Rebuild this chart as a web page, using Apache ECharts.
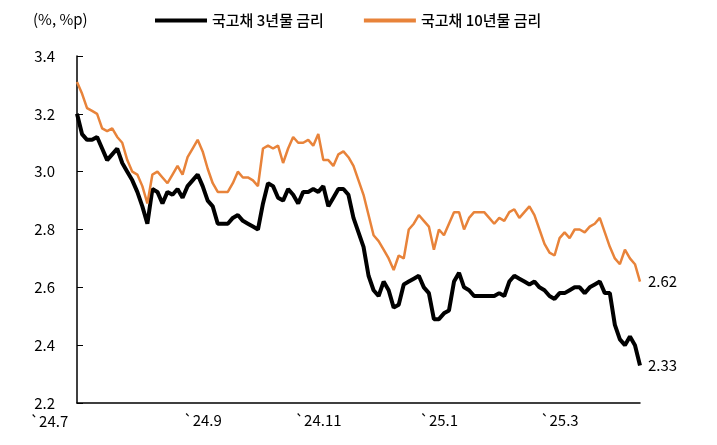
<!DOCTYPE html><html><head><meta charset="utf-8"><script src="https://cdn.jsdelivr.net/npm/echarts@6/dist/echarts.min.js"></script></head><body style="margin:0"><div id="c" style="width:717px;height:445px"></div><script>
const y3 = [3.20,3.13,3.11,3.11,3.12,3.08,3.04,3.06,3.08,3.03,3.00,2.97,2.93,2.88,2.82,2.94,2.93,2.89,2.93,2.92,2.94,2.91,2.95,2.97,2.99,2.95,2.90,2.88,2.82,2.82,2.82,2.84,2.85,2.83,2.82,2.81,2.80,2.89,2.96,2.95,2.91,2.90,2.94,2.92,2.89,2.93,2.93,2.94,2.93,2.95,2.88,2.91,2.94,2.94,2.92,2.84,2.79,2.74,2.64,2.59,2.57,2.62,2.59,2.53,2.54,2.61,2.62,2.63,2.64,2.60,2.58,2.49,2.49,2.51,2.52,2.62,2.65,2.60,2.59,2.57,2.57,2.57,2.57,2.57,2.58,2.57,2.62,2.64,2.63,2.62,2.61,2.62,2.60,2.59,2.57,2.56,2.58,2.58,2.59,2.60,2.60,2.58,2.60,2.61,2.62,2.58,2.58,2.47,2.42,2.40,2.43,2.40,2.33];
const y10 = [3.31,3.27,3.22,3.21,3.20,3.15,3.14,3.15,3.12,3.10,3.04,3.00,2.99,2.95,2.89,2.99,3.00,2.98,2.96,2.99,3.02,2.99,3.05,3.08,3.11,3.07,3.01,2.96,2.93,2.93,2.93,2.96,3.00,2.98,2.98,2.97,2.95,3.08,3.09,3.08,3.09,3.03,3.08,3.12,3.10,3.10,3.11,3.09,3.13,3.04,3.04,3.02,3.06,3.07,3.05,3.02,2.97,2.92,2.85,2.78,2.76,2.73,2.70,2.66,2.71,2.70,2.80,2.82,2.85,2.83,2.81,2.73,2.80,2.78,2.82,2.86,2.86,2.80,2.84,2.86,2.86,2.86,2.84,2.82,2.84,2.83,2.86,2.87,2.84,2.86,2.88,2.85,2.80,2.75,2.72,2.71,2.77,2.79,2.77,2.80,2.80,2.79,2.81,2.82,2.84,2.79,2.74,2.70,2.68,2.73,2.70,2.68,2.62];
const firstLabel = '`24.7';
const tickLabels = {25:'`24.9',48:'`24.11',72:'`25.1',96:'`25.3'};
const cats = y3.map((_, i) => tickLabels[i] || '');
const F = 'Noto Sans CJK KR';
const ch = echarts.init(document.getElementById('c'));
ch.setOption({
  animation:false,
  textStyle:{fontFamily:F},
  graphic:[{type:'text',left:33,top:12,style:{text:'(%, %p)',font:'15px "Noto Sans CJK KR"',fill:'#000'}},
    {type:'text',left:30,top:414,style:{text:firstLabel,font:'15px "Noto Sans CJK KR"',fill:'#000'}}],
  legend:{top:8,left:150,itemGap:40,itemWidth:52,itemHeight:4,textStyle:{fontSize:15,fontWeight:500,color:'#000',fontFamily:F},icon:'rect',
    data:[{name:'국고채 3년물 금리',itemStyle:{color:'#000'}},{name:'국고채 10년물 금리'}]},
  grid:{left:77,right:77,top:56,bottom:42},
  xAxis:{type:'category',data:cats,boundaryGap:false,axisLine:{lineStyle:{color:'#000',width:1.5}},axisTick:{show:false},
    axisLabel:{interval:0,color:'#000',fontSize:15,margin:10}},
  yAxis:{type:'value',min:2.2,max:3.4,interval:0.2,axisLine:{show:true,lineStyle:{color:'#000',width:1.5}},axisTick:{show:true,inside:true,length:6,lineStyle:{color:'#000'}},
    splitLine:{show:false},axisLabel:{color:'#000',fontSize:15,margin:22,formatter:v=>v.toFixed(1)}},
  series:[
    {name:'국고채 3년물 금리',type:'line',data:y3,showSymbol:false,lineStyle:{color:'#000',width:4},itemStyle:{color:'#000'},
     endLabel:{show:true,formatter:'2.33',fontSize:15,color:'#000',distance:8}},
    {name:'국고채 10년물 금리',type:'line',data:y10,showSymbol:false,lineStyle:{color:'#e8833a',width:2.5},itemStyle:{color:'#e8833a'},
     endLabel:{show:true,formatter:'2.62',fontSize:15,color:'#000',distance:8}}
  ]
});
</script></body></html>
